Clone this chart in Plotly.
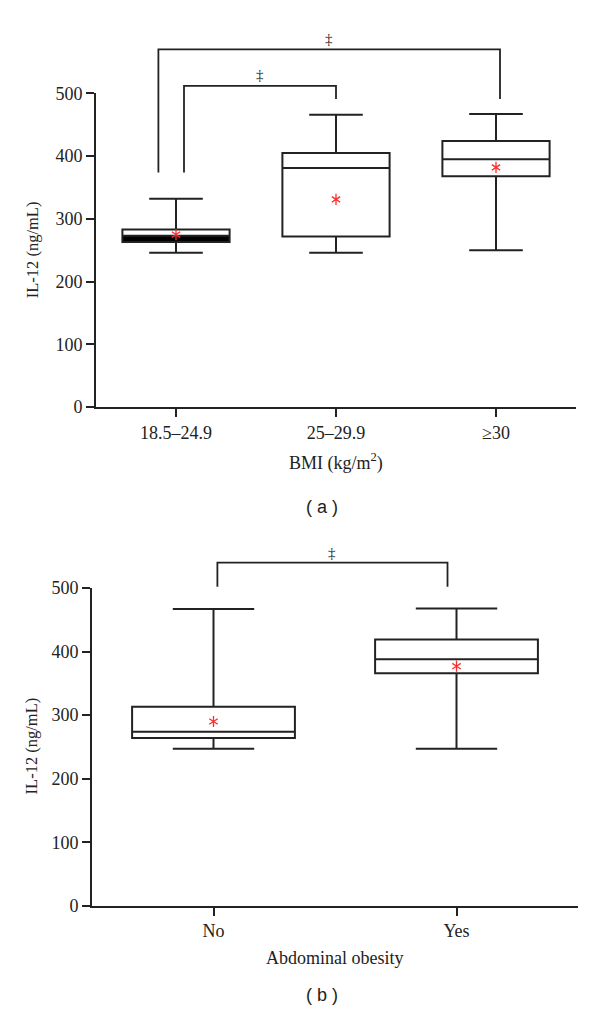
import plotly.graph_objects as go

# ---------------- data: panel (a) BMI ----------------
bmi_cats = ["18.5–24.9", "25–29.9", "≥30"]
bmi_lower = [246, 246, 250]
bmi_q1 = [263, 272, 368]
bmi_median = [273, 381, 395]
bmi_q3 = [283, 405, 424]
bmi_upper = [332, 466, 467]
bmi_mean = [275, 331, 382]

# significance brackets panel (a)
a_br_left = [-0.11, 0.05]
a_br_right = [2.025, 1.0]
a_br_top = [570, 512]
a_br_left_end = [374, 374]
a_br_right_end = [491, 491]
a_br_mark_y = [586, 530]
a_br_mark = ["‡", "‡"]

# ---------------- data: panel (b) Abdominal obesity ----------------
ao_cats = ["No", "Yes"]
ao_lower = [247, 247]
ao_q1 = [264, 366]
ao_median = [274, 388]
ao_q3 = [313, 419]
ao_upper = [467, 468]
ao_mean = [290, 377]

b_br_left = [0.016]
b_br_right = [0.963]
b_br_top = [540]
b_br_left_end = [502]
b_br_right_end = [502]
b_br_mark_y = [555]
b_br_mark = ["‡"]

y_ticks = [0, 100, 200, 300, 400, 500]

INK = "#222222"
SERIF = "Liberation Serif"
SANS = "Liberation Sans"

W, H = 600, 1030
def px_x(p):
    return p / W
def px_y(p):
    return 1 - p / H

# panel geometry (pixels)
a_x0, a_x1 = 96, 576
a_y0, a_y1, a_ytop = 405, 85, 20
b_x0, b_x1 = 92, 578
b_y0, b_y1, b_ytop = 913.5, 589.5, 540

a_br_range = 500 * (a_y0 - a_ytop) / (a_y0 - a_y1)
b_br_range = 500 * (b_y0 - b_ytop) / (b_y0 - b_y1)

fig = go.Figure()

def add_panel(cats, lower, q1, med, q3, upper, mean, xa, ya, dark_first):
    if dark_first:
        fig.add_trace(go.Bar(
            x=[cats[0]], y=[med[0] - q1[0]], base=[q1[0]], width=0.67,
            marker=dict(color="#000000", line=dict(width=0)),
            showlegend=False, hoverinfo="skip", xaxis=xa, yaxis=ya))
    fig.add_trace(go.Box(
        x=cats, q1=q1, median=med, q3=q3, lowerfence=lower, upperfence=upper,
        width=0.67, whiskerwidth=0.5, boxpoints=False,
        line=dict(color=INK, width=2), fillcolor="rgba(0,0,0,0)",
        showlegend=False, xaxis=xa, yaxis=ya))
    for sym in ["y-up-open", "y-down-open"]:
        fig.add_trace(go.Scatter(
            x=cats, y=mean, mode="markers",
            marker=dict(symbol=sym, size=7, color="#ff2a2a",
                        line=dict(width=1.3, color="#ff2a2a")),
            showlegend=False, xaxis=xa, yaxis=ya))

def add_brackets(left, right, top, lend, rend, mark_y, marks, xa, ya):
    for l, r, t, le, re, my, mk in zip(left, right, top, lend, rend, mark_y, marks):
        fig.add_trace(go.Scatter(
            x=[l, l, r, r], y=[le, t, t, re], mode="lines",
            line=dict(color=INK, width=1.8), showlegend=False,
            hoverinfo="skip", xaxis=xa, yaxis=ya))
        fig.add_annotation(
            text=mk, x=(l + r) / 2, y=my, xref=xa, yref=ya,
            xanchor="center", yanchor="middle", showarrow=False,
            font=dict(family=SERIF, size=15, color=INK))

add_panel(bmi_cats, bmi_lower, bmi_q1, bmi_median, bmi_q3, bmi_upper, bmi_mean,
          "x", "y", True)
add_panel(ao_cats, ao_lower, ao_q1, ao_median, ao_q3, ao_upper, ao_mean,
          "x2", "y2", False)
add_brackets(a_br_left, a_br_right, a_br_top, a_br_left_end, a_br_right_end,
             a_br_mark_y, a_br_mark, "x3", "y3")
add_brackets(b_br_left, b_br_right, b_br_top, b_br_left_end, b_br_right_end,
             b_br_mark_y, b_br_mark, "x4", "y4")

axis_common = dict(showline=True, linecolor=INK, linewidth=1.8, ticks="outside",
                   ticklen=8, tickwidth=1.8, tickcolor=INK, showgrid=False,
                   zeroline=False, tickfont=dict(family=SERIF, size=18, color=INK),
                   fixedrange=True)

fig.update_layout(
    width=W, height=H, margin=dict(l=0, r=0, t=0, b=0),
    paper_bgcolor="white", plot_bgcolor="rgba(0,0,0,0)",
    showlegend=False, boxmode="overlay", barmode="overlay", hovermode=False,
    xaxis=dict(domain=[px_x(a_x0), px_x(a_x1)], type="category",
               range=[-0.5, 2.5], anchor="y", **axis_common),
    yaxis=dict(domain=[px_y(a_y0), px_y(a_y1)], range=[0, 500],
               tickvals=y_ticks, anchor="x", **axis_common),
    xaxis2=dict(domain=[px_x(b_x0), px_x(b_x1)], type="category",
                range=[-0.5, 1.5], anchor="y2", **axis_common),
    yaxis2=dict(domain=[px_y(b_y0), px_y(b_y1)], range=[0, 500],
                tickvals=y_ticks, anchor="x2", **axis_common),
    xaxis3=dict(domain=[px_x(a_x0), px_x(a_x1)], range=[-0.5, 2.5],
                anchor="y3", visible=False, fixedrange=True),
    yaxis3=dict(domain=[px_y(a_y0), px_y(a_ytop)], range=[0, a_br_range],
                anchor="x3", visible=False, fixedrange=True),
    xaxis4=dict(domain=[px_x(b_x0), px_x(b_x1)], range=[-0.5, 1.5],
                anchor="y4", visible=False, fixedrange=True),
    yaxis4=dict(domain=[px_y(b_y0), px_y(b_ytop)], range=[0, b_br_range],
                anchor="x4", visible=False, fixedrange=True),
)

title_font = dict(family=SERIF, size=18, color=INK)
ytitle_font = dict(family=SERIF, size=16.5, color=INK)
annotations = [
    dict(text="IL-12 (ng/mL)", x=px_x(32), y=px_y(245), textangle=-90, font=ytitle_font),
    dict(text="IL-12 (ng/mL)", x=px_x(31), y=px_y(751), textangle=-90, font=ytitle_font),
    dict(text="BMI (kg/m<sup>2</sup>)", x=px_x(336), y=px_y(461), font=title_font),
    dict(text="Abdominal obesity", x=px_x(335), y=px_y(967), font=title_font),
]
for a in annotations:
    fig.add_annotation(xref="paper", yref="paper", xanchor="center",
                       yanchor="middle", showarrow=False, **a)
for txt, yy in [("( a )", 507), ("( b )", 1005)]:
    fig.add_annotation(text=txt, xref="paper", yref="paper", x=px_x(322),
                       y=px_y(yy), xanchor="center", yanchor="middle",
                       showarrow=False,
                       font=dict(family=SANS, size=18, color=INK))

fig.write_html("out.html", config={"displayModeBar": False},
               post_script="document.body.style.margin='0';")
